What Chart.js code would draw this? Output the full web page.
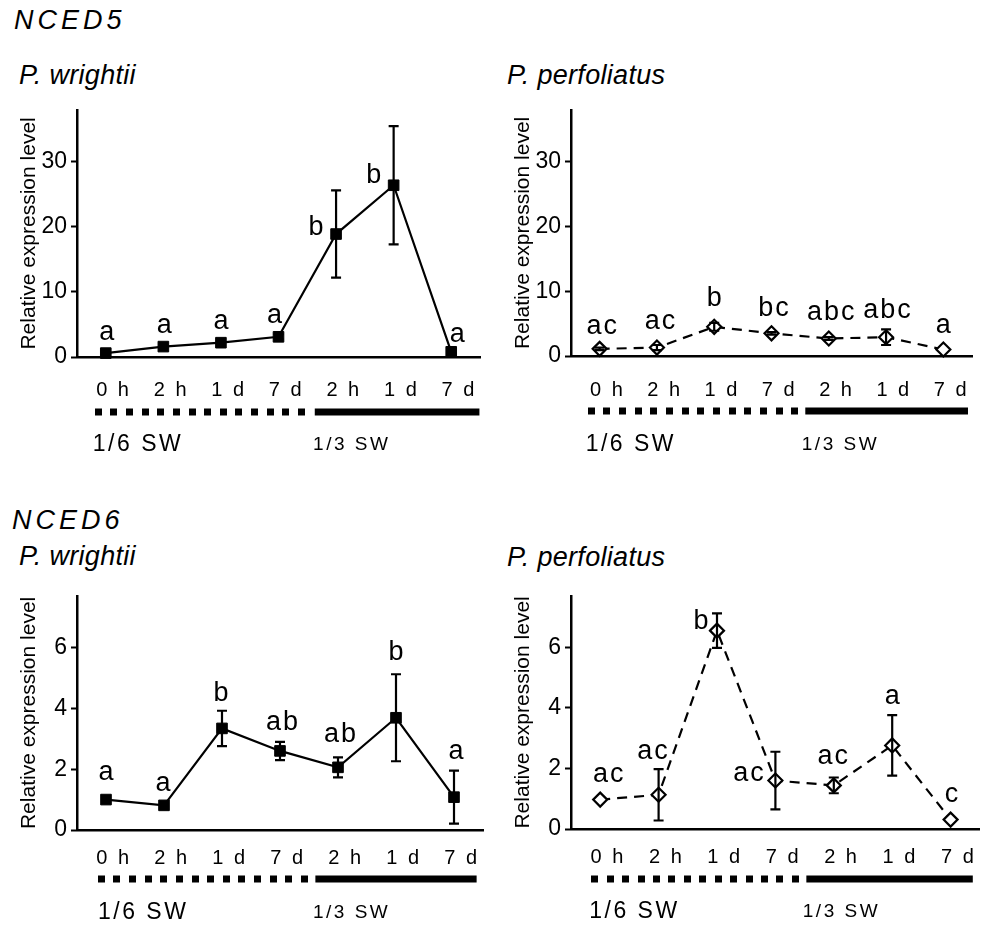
<!DOCTYPE html>
<html><head><meta charset="utf-8">
<script src="https://cdn.jsdelivr.net/npm/chart.js@4.4.1/dist/chart.umd.min.js"></script>
<style>
body{margin:0;background:#fff;width:989px;height:925px;position:relative;overflow:hidden;font-family:"Liberation Sans",Arial,sans-serif;}
.t{position:absolute;font-style:italic;font-size:27px;line-height:27px;color:#000;white-space:nowrap;letter-spacing:0.3px;}
.g{letter-spacing:4px;}
canvas{position:absolute;}
</style></head><body>
<div class="t g" style="left:14px;top:7px">NCED5</div>
<div class="t" style="left:19px;top:62px">P. wrightii</div>
<div class="t" style="left:507px;top:62px">P. perfoliatus</div>
<div class="t g" style="left:12px;top:507px">NCED6</div>
<div class="t" style="left:19px;top:543px">P. wrightii</div>
<div class="t" style="left:507px;top:544px">P. perfoliatus</div>
<canvas id="p1" width="494" height="378" style="left:0;top:92px"></canvas>
<canvas id="p2" width="495" height="378" style="left:494px;top:92px"></canvas>
<canvas id="p3" width="494" height="347" style="left:0;top:578px"></canvas>
<canvas id="p4" width="495" height="347" style="left:494px;top:578px"></canvas>
<script>
// ---- data ----
const timeLabels = ['0 h','2 h','1 d','7 d','2 h','1 d','7 d'];
const salinityGroups = ['1/6 SW','1/3 SW'];
const yAxisTitle = 'Relative expression level';

const nced5Ticks = [0,10,20,30];
const nced6Ticks = [0,2,4,6];

const nced5WrightiiMean = [0.6, 1.6, 2.2, 3.1, 18.9, 26.4, 0.8];
const nced5WrightiiSE   = [0.1, 0.3, 0.3, 0.4, 6.7, 9.1, 0.2];
const nced5WrightiiLetters = ['a','a','a','a','b','b','a'];

const nced5PerfoliatusMean = [1.1, 1.3, 4.5, 3.5, 2.7, 2.9, 1.0];
const nced5PerfoliatusSE   = [0.2, 0.4, 0.6, 0.2, 0.2, 1.2, 0];
const nced5PerfoliatusLetters = ['ac','ac','b','bc','abc','abc','a'];

const nced6WrightiiMean = [1.0, 0.81, 3.34, 2.6, 2.06, 3.69, 1.08];
const nced6WrightiiSE   = [0.05, 0.05, 0.58, 0.3, 0.33, 1.43, 0.87];
const nced6WrightiiLetters = ['a','a','b','ab','ab','b','a'];

const nced6PerfoliatusMean = [0.97, 1.13, 6.55, 1.6, 1.44, 2.76, 0.31];
const nced6PerfoliatusSE   = [0, 0.85, 0.57, 0.95, 0.26, 1.0, 0];
const nced6PerfoliatusLetters = ['ac','ac','b','ac','ac','a','c'];

// ---- layout (pixel offsets, not data) ----
const FONT = '"Liberation Sans", Arial, sans-serif';

const decorPlugin = {
  id: 'decor',
  afterDatasetsDraw(chart, args, o) {
    const ctx = chart.ctx, xs = chart.scales.x, ys = chart.scales.y;
    const means = chart.data.datasets[0].data;
    ctx.save();
    ctx.strokeStyle = '#000'; ctx.lineWidth = 2.2; ctx.setLineDash([]);
    means.forEach((m, i) => {
      const e = o.se[i]; if (!e) return;
      const x = xs.getPixelForValue(i);
      const yt = ys.getPixelForValue(m + e), yb = ys.getPixelForValue(Math.max(m - e, 0));
      ctx.beginPath();
      ctx.moveTo(x, yt); ctx.lineTo(x, yb);
      ctx.moveTo(x - 5, yt); ctx.lineTo(x + 5, yt);
      ctx.moveTo(x - 5, yb); ctx.lineTo(x + 5, yb);
      ctx.stroke();
    });
    ctx.fillStyle = '#000';
    ctx.font = '27px ' + FONT;
    ctx.textAlign = 'center'; ctx.textBaseline = 'alphabetic';
    ctx.letterSpacing = '2px';
    o.letters.forEach((t, i) => {
      const off = o.letterOffsets[i];
      ctx.fillText(t, xs.getPixelForValue(i) + off[0] + 1, ys.getPixelForValue(means[i]) + off[1]);
    });
    ctx.restore();
  },
  afterDraw(chart, args, o) {
    const ctx = chart.ctx, xs = chart.scales.x;
    const bottom = chart.chartArea.bottom;
    ctx.save();
    ctx.fillStyle = '#000';
    // time labels
    ctx.font = '20px ' + FONT;
    ctx.letterSpacing = '2.5px';
    ctx.textAlign = 'center'; ctx.textBaseline = 'middle';
    timeLabels.forEach((t, i) => {
      ctx.fillText(t, xs.getPixelForValue(i) + 8, bottom + o.labelY);
    });
    // treatment bar
    const b = o.bar, by = bottom + o.barY, h = 7;
    const s = xs.getPixelForValue(b[0]), e = xs.getPixelForValue(b[1]);
    const n = 14, step = (e - s - h) / (n - 1);
    for (let k = 0; k < n; k++) ctx.fillRect(Math.round(s + k * step), by - h / 2, h, h);
    const s2 = xs.getPixelForValue(b[2]), e2 = xs.getPixelForValue(b[3]);
    ctx.fillRect(s2, by - h / 2, e2 - s2, h);
    // group labels
    ctx.textAlign = 'left';
    ctx.font = '23px ' + FONT; ctx.letterSpacing = '2.5px';
    ctx.fillText(salinityGroups[0], xs.getPixelForValue(0) + o.groupX[0], bottom + o.groupY);
    ctx.font = '19px ' + FONT; ctx.letterSpacing = '2.5px';
    ctx.fillText(salinityGroups[1], xs.getPixelForValue(4) + o.groupX[1], bottom + o.groupY);
    ctx.restore();
  }
};

function makePanel(id, means, se, letters, ticks, yMax, open, L) {
  new Chart(document.getElementById(id), {
    type: 'line',
    data: {
      labels: timeLabels,
      datasets: [{
        data: means,
        borderColor: '#000',
        borderWidth: 2.2,
        borderDash: open ? [10, 7] : [],
        tension: 0,
        pointStyle: open ? 'rectRot' : 'rect',
        pointRadius: open ? 7 : 7.5,
        pointBorderWidth: open ? 2.2 : 1,
        pointBackgroundColor: open ? '#fff' : '#000',
        pointBorderColor: '#000',
        clip: false
      }]
    },
    options: {
      responsive: false,
      devicePixelRatio: 1,
      animation: false,
      events: [],
      layout: { padding: { top: L.top, right: L.right, left: 0, bottom: 0 } },
      plugins: {
        legend: { display: false },
        tooltip: { enabled: false },
        decor: { se: se, letters: letters, letterOffsets: L.letterOffsets, labelY: L.labelY, barY: L.barY, groupY: L.groupY, bar: L.bar, groupX: L.groupX }
      },
      scales: {
        x: {
          type: 'category',
          offset: true,
          grid: { display: false, drawTicks: false },
          border: { display: true, color: '#000', width: 2.5 },
          ticks: { display: false },
          afterFit: (sc) => { sc.height = L.xH; }
        },
        y: {
          min: 0, max: yMax,
          afterBuildTicks: (sc) => { sc.ticks = ticks.map(v => ({ value: v })); },
          grid: { display: true, drawOnChartArea: false, drawTicks: true, tickLength: 6, tickWidth: 2, tickColor: '#000' },
          border: { display: true, color: '#000', width: 2.5 },
          ticks: { color: '#000', font: { size: 23, family: FONT }, padding: 4, autoSkip: false },
          title: { display: true, text: yAxisTitle, color: '#000', font: { size: 21, family: FONT }, padding: { top: 17, bottom: 0 } },
          afterFit: (sc) => { sc.width = 77; }
        }
      }
    },
    plugins: [decorPlugin]
  });
}

makePanel('p1', nced5WrightiiMean, nced5WrightiiSE, nced5WrightiiLetters, nced5Ticks, 38, false, {
  top: 8, right: 14, xH: 113, labelY: 33, barY: 55, groupY: 88,
  bar: [-0.19, 3.46, 3.63, 6.49], groupX: [-13, -23],
  letterOffsets: [[1,-13],[1,-14],[0,-14],[-4,-14],[-20,1],[-20,-2],[6,-10]]
});
makePanel('p2', nced5PerfoliatusMean, nced5PerfoliatusSE, nced5PerfoliatusLetters, nced5Ticks, 38, true, {
  top: 6, right: 17, xH: 114, labelY: 34, barY: 55, groupY: 89,
  bar: [-0.21, 3.47, 3.59, 6.43], groupX: [-14, -27],
  letterOffsets: [[2,-15],[3,-19],[0,-21],[2,-17],[2,-19],[1,-19],[0,-17]]
});
makePanel('p3', nced6WrightiiMean, nced6WrightiiSE, nced6WrightiiLetters, nced6Ticks, 7.7, false, {
  top: 8, right: 11, xH: 95, labelY: 28, barY: 49, groupY: 83,
  bar: [-0.14, 3.48, 3.61, 6.39], groupX: [-8, -25],
  letterOffsets: [[0,-20],[-1,-14],[-1,-27],[2,-21],[2,-25],[0,-58],[2,-38]]
});
makePanel('p4', nced6PerfoliatusMean, nced6PerfoliatusSE, nced6PerfoliatusLetters, nced6Ticks, 7.7, true, {
  top: 8, right: 2, xH: 96, labelY: 28, barY: 50, groupY: 83,
  bar: [-0.15, 3.4, 3.53, 6.38], groupX: [-11, -31],
  letterOffsets: [[8,-18],[-6,-36],[-16,-2],[-27,0],[-1,-21],[0,-41],[1,-18]]
});
</script>
</body></html>
